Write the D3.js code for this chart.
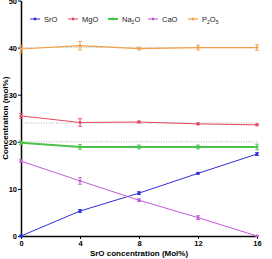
<!DOCTYPE html>
<html>
<head>
<meta charset="utf-8">
<script src="https://cdn.jsdelivr.net/npm/d3@7"></script>
<style>
  body { margin: 0; background: #fff; }
  svg { display: block; font-family: "Liberation Sans", Arial, sans-serif; }
</style>
</head>
<body>
<div id="chart"></div>
<script>
  // SrO content of each glass (x axis)
  let srO = [0, 4, 8, 12, 16];
  let xTicks = [0, 4, 8, 12, 16];
  let yTicks = [0, 10, 20, 30, 40, 50];
  // nominal values, drawn as dotted guide lines
  let nominal = [40, 24, 20];

  // measured values, one array per oxide
  let srOVals = [0, 5.3, 9.1, 13.3, 17.4];
  let mgOVals = [25.5, 24.1, 24.2, 23.8, 23.6];
  let na2OVals = [19.8, 18.9, 18.9, 18.9, 18.9];
  let caOVals = [15.9, 11.7, 7.6, 3.9, 0];
  let p2O5Vals = [39.7, 40.4, 39.8, 40.0, 40.0];

  // error bars (+/-)
  let srOErr = [0.2, 0.3, 0.3, 0.2, 0.3];
  let mgOErr = [0.5, 0.8, 0.2, 0.2, 0.2];
  let na2OErr = [0.4, 0.5, 0.4, 0.4, 0.6];
  let caOErr = [0.3, 0.7, 0.3, 0.4, 0.1];
  let p2O5Err = [0.8, 0.9, 0.3, 0.5, 0.6];

  let seriesNames = ['SrO', 'MgO', 'Na2O', 'CaO', 'P2O5'];
  let seriesVals = [srOVals, mgOVals, na2OVals, caOVals, p2O5Vals];
  let seriesErr = [srOErr, mgOErr, na2OErr, caOErr, p2O5Err];
  let colors = ['#2f2fd6', '#e0485a', '#4cc24c', '#c458d8', '#f2a146'];
  let widths = [1, 1, 2, 1, 1.2];

  let width = 272;
  let height = 259;
  let margin = { top: 0.5, right: 15, bottom: 23, left: 21 };

  let svg = d3.select('#chart').append('svg')
    .attr('width', width)
    .attr('height', height);

  let x = d3.scaleLinear().domain([0, 16]).range([margin.left, width - margin.right]);
  let y = d3.scaleLinear().domain([0, 50]).range([height - margin.bottom, margin.top]);

  // dotted guides
  svg.selectAll('.guide')
    .data(nominal)
    .enter().append('line')
    .attr('x1', x(0)).attr('x2', x(16))
    .attr('y1', (d) => y(d)).attr('y2', (d) => y(d))
    .attr('stroke', '#999')
    .attr('stroke-width', 0.8)
    .attr('stroke-dasharray', '1,1.5');

  // axes
  let xAxis = svg.append('g')
    .attr('transform', `translate(0, ${y(0)})`)
    .call(d3.axisBottom(x).tickValues(xTicks).tickSize(3).tickSizeOuter(0));
  let yAxis = svg.append('g')
    .attr('transform', `translate(${x(0)}, 0)`)
    .call(d3.axisLeft(y).tickValues(yTicks).tickSize(3).tickSizeOuter(0));

  [xAxis, yAxis].forEach((g) => {
    g.select('.domain').attr('stroke', '#000').attr('stroke-width', 1.5);
    g.selectAll('.tick line').attr('stroke', '#000').attr('stroke-width', 1);
    g.selectAll('.tick text')
      .attr('font-size', 7.5)
      .attr('font-weight', 'bold')
      .attr('font-family', '"Liberation Sans", Arial, sans-serif')
      .attr('fill', '#000');
  });
  yAxis.selectAll('.tick text').attr('x', -4).attr('dy', '0.34em');
  xAxis.selectAll('.tick text').attr('y', 5);

  // series lines, error bars, markers
  let line = d3.line().x((d, i) => x(srO[i])).y((d) => y(d));

  seriesVals.forEach((vals, k) => {
    let g = svg.append('g');
    g.append('path')
      .datum(vals)
      .attr('d', line)
      .attr('fill', 'none')
      .attr('stroke', colors[k])
      .attr('stroke-width', widths[k]);

    let pts = vals.map((v, i) => ({ x: srO[i], v: v, e: seriesErr[k][i] }));

    g.selectAll('.err')
      .data(pts)
      .enter().append('path')
      .attr('d', (d) => {
        let cx = x(d.x);
        let y1 = y(d.v + d.e);
        let y2 = y(d.v - d.e);
        return `M${cx - 2},${y1}H${cx + 2}M${cx},${y1}V${y2}M${cx - 2},${y2}H${cx + 2}`;
      })
      .attr('stroke', colors[k])
      .attr('stroke-width', 0.9)
      .attr('fill', 'none');

    g.selectAll('.pt')
      .data(pts)
      .enter().append('circle')
      .attr('cx', (d) => x(d.x))
      .attr('cy', (d) => y(d.v))
      .attr('r', 1.4)
      .attr('fill', colors[k]);
  });

  // legend
  let legendX = [30, 68, 108, 148, 188];
  let legend = svg.selectAll('.legend')
    .data(seriesNames)
    .enter().append('g')
    .attr('transform', (d, i) => `translate(${legendX[i]}, 19)`);

  legend.append('line')
    .attr('x1', 0).attr('x2', 10)
    .attr('stroke', (d, i) => colors[i])
    .attr('stroke-width', (d, i) => widths[i]);
  legend.append('circle')
    .attr('cx', 5).attr('r', 1.4)
    .attr('fill', (d, i) => colors[i]);

  let legendText = legend.append('text')
    .attr('x', 14)
    .attr('dy', '0.35em')
    .attr('font-size', 7.5)
    .attr('fill', '#222');

  legendText.each(function(d){
    let t = d3.select(this);
    let m = d.match(/^([A-Za-z]+)(\d?)([A-Za-z]*)(\d?)$/);
    t.append('tspan').text(m[1]);
    if (m[2]) t.append('tspan').attr('font-size', 5).attr('dy', 2).text(m[2]);
    if (m[3]) t.append('tspan').attr('dy', m[2] ? -2 : 0).text(m[3]);
    if (m[4]) t.append('tspan').attr('font-size', 5).attr('dy', 2).text(m[4]);
  });

  // axis titles
  svg.append('text')
    .attr('x', (x(0) + x(16)) / 2)
    .attr('y', 256)
    .attr('text-anchor', 'middle')
    .attr('font-size', 8)
    .attr('font-weight', 'bold')
    .text('SrO concentration (Mol%)');

  svg.append('text')
    .attr('transform', `translate(8, ${y(25)}) rotate(-90)`)
    .attr('text-anchor', 'middle')
    .attr('font-size', 8)
    .attr('font-weight', 'bold')
    .text('Concentration (mol%)');
</script>
</body>
</html>
